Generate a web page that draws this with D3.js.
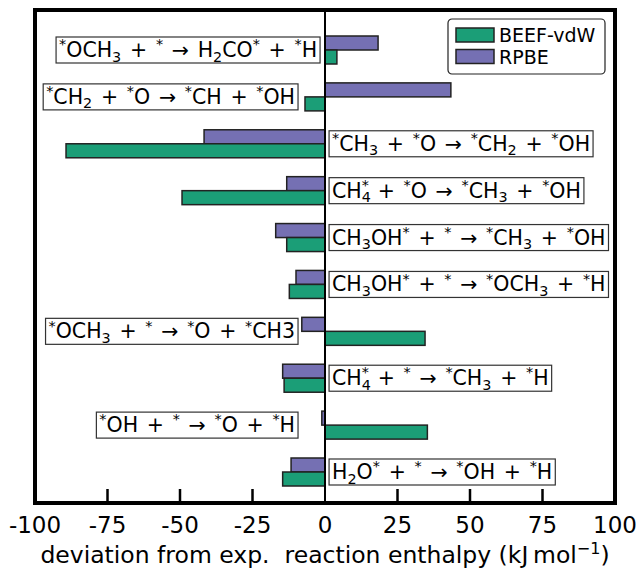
<!DOCTYPE html>
<html>
<head>
<meta charset="utf-8">
<script src="https://cdn.jsdelivr.net/npm/d3@7"></script>
<style>
  body { margin: 0; background: #fff; }
  svg { font-family: "DejaVu Sans", sans-serif; }
</style>
</head>
<body>
<svg id="chart"></svg>
<script>
// reactions, top to bottom; ^ = superscript next char, _ = subscript next char
let reactions = [
  "^*OCH_3 + ^* \u2192 H_2CO^* + ^*H",
  "^*CH_2 + ^*O \u2192 ^*CH + ^*OH",
  "^*CH_3 + ^*O \u2192 ^*CH_2 + ^*OH",
  "CH_4^* + ^*O \u2192 ^*CH_3 + ^*OH",
  "CH_3OH^* + ^* \u2192 ^*CH_3 + ^*OH",
  "CH_3OH^* + ^* \u2192 ^*OCH_3 + ^*H",
  "^*OCH_3 + ^* \u2192 ^*O + ^*CH3",
  "CH_4^* + ^* \u2192 ^*CH_3 + ^*H",
  "^*OH + ^* \u2192 ^*O + ^*H",
  "H_2O^* + ^* \u2192 ^*OH + ^*H"
];
let beef = [4.1, -6.9, -89.3, -49.3, -13.2, -12.3, 34.5, -14.1, 35.3, -14.6];
let rpbe = [18.3, 43.4, -41.7, -13.2, -17.0, -10.0, -8.0, -14.6, -1.1, -11.7];
// where each label box is anchored (kJ/mol); negative = box ends there, positive = box starts there
let labelAt = [-1.7, -9.3, 1.4, 1.4, 1.4, 1.4, -9.3, 1.4, -9.3, 1.4];
let xTicks = [-100, -75, -50, -25, 0, 25, 50, 75, 100];
let series = ["BEEF-vdW", "RPBE"];
let colors = ["#1b9e77", "#7570b3"];

let W = 640, H = 569;
let margin = {top: 10, right: 25, bottom: 66, left: 35};
let width = W - margin.left - margin.right,
    height = H - margin.top - margin.bottom;

let svg = d3.select("#chart").attr("width", W).attr("height", H)
  .append("g")
    .attr("transform", "translate(" + margin.left + "," + margin.top + ")");

let x = d3.scaleLinear().domain([-100, 100]).range([0, width]);
let y = d3.scalePoint().domain(d3.range(reactions.length)).range([40, height - 31]);
let barH = 14;

// bars: RPBE above centre, BEEF-vdW below
function bars(vals, color, off) {
  svg.selectAll(null)
    .data(vals)
    .enter().append("rect")
      .attr("x", d => x(Math.min(0, d)))
      .attr("width", d => Math.abs(x(d) - x(0)))
      .attr("y", (d, i) => y(i) + off)
      .attr("height", barH)
      .attr("fill", color)
      .attr("stroke", "#222")
      .attr("stroke-width", 1.5);
}
bars(rpbe, colors[1], -barH);
bars(beef, colors[0], 0);

// zero line
svg.append("line")
  .attr("x1", x(0)).attr("x2", x(0))
  .attr("y1", 0).attr("y2", height)
  .attr("stroke", "#000").attr("stroke-width", 2);

// write a mini-mathtext string into a text element
function mathText(textSel, str, size) {
  let shift = 0, prevSub = null;
  let i = 0;
  while (i < str.length) {
    let type = "n", s = "";
    if (str[i] == "^" || str[i] == "_") {
      type = str[i] == "^" ? "sup" : "sub";
      s = str[i + 1];
      i += 2;
    } else {
      while (i < str.length && str[i] != "^" && str[i] != "_") { s += str[i]; i++; }
    }
    let target = type == "sup" ? -0.38 * size : type == "sub" ? 0.22 * size : 0;
    let ts = textSel.append("tspan")
      .attr("dy", target - shift)
      .attr("font-size", type == "n" ? size : size * 0.7)
      .text(s);
    if (type == "sup" && prevSub) ts.attr("dx", -prevSub.node().getComputedTextLength());
    prevSub = type == "sub" ? ts : null;
    shift = target;
  }
}

// reaction labels in boxes
reactions.forEach(function(r, i) {
  let g = svg.append("g");
  let t = g.append("text").attr("x", 0).attr("y", 0).attr("fill", "#000")
    .attr("word-spacing", 2.2);
  mathText(t, r, 20.5);
  let bb = t.node().getBBox();
  let pad = 3;
  let bw = bb.width + 2 * pad, bh = 26;
  let bx = labelAt[i] < 0 ? x(labelAt[i]) - bw : x(labelAt[i]);
  g.insert("rect", "text")
    .attr("x", bb.x - pad).attr("y", -bh / 2 - 7)
    .attr("width", bw).attr("height", bh)
    .attr("fill", "#fff").attr("stroke", "#333").attr("stroke-width", 1.2);
  g.attr("transform", "translate(" + (bx - bb.x + pad) + "," + (y(i) + 7) + ")");
});

// bottom ticks pointing inward
svg.selectAll(null)
  .data(xTicks.filter(d => Math.abs(d) < 100 && d != 0))
  .enter().append("line")
    .attr("x1", d => x(d)).attr("x2", d => x(d))
    .attr("y1", height).attr("y2", height - 14)
    .attr("stroke", "#000").attr("stroke-width", 2.5);

svg.selectAll(null)
  .data(xTicks)
  .enter().append("text")
    .attr("x", d => x(d))
    .attr("y", height + 30)
    .attr("text-anchor", "middle")
    .attr("font-size", 23)
    .text(d => String(d));

let xl = svg.append("text")
  .attr("x", x(0)).attr("y", height + 60)
  .attr("text-anchor", "middle")
  .attr("font-size", 23.5)
  .attr("xml:space", "preserve");
xl.append("tspan").text("deviation from exp.\u00a0 reaction enthalpy (kJ\u2009mol");
xl.append("tspan").attr("dy", -9).attr("font-size", 16).text("\u22121");
xl.append("tspan").attr("dy", 9).text(")");

// frame
svg.append("rect")
  .attr("width", width).attr("height", height)
  .attr("fill", "none").attr("stroke", "#000").attr("stroke-width", 4);

// legend
let lg = svg.append("g").attr("transform", "translate(" + (x(100) - 167) + ",9)");
lg.append("rect")
  .attr("width", 157).attr("height", 55).attr("rx", 4)
  .attr("fill", "#fff").attr("stroke", "#222").attr("stroke-width", 1.2);
series.forEach(function(s, i) {
  lg.append("rect")
    .attr("x", 8).attr("y", 9 + i * 21.5)
    .attr("width", 38).attr("height", 14)
    .attr("fill", colors[i]).attr("stroke", "#222").attr("stroke-width", 1.5);
  lg.append("text")
    .attr("x", 51).attr("y", 23 + i * 21.5)
    .attr("font-size", 19)
    .text(s);
});
</script>
</body>
</html>
